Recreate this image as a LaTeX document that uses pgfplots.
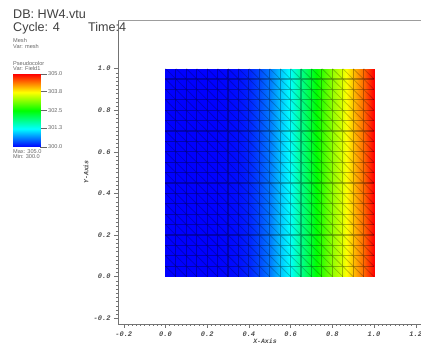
\documentclass[border=0pt]{standalone}
\usepackage{fontspec}
\setmainfont{Liberation Sans}
\setmonofont{Liberation Mono}
\usepackage{pgfplots}
\usepackage{pgfplotstable}
\pgfplotsset{compat=1.18}

% field value along x, same at bottom (y=0) and top (y=1)
\pgfplotstableread{
x y T
0.00 0 300.00
0.05 0 300.00
0.10 0 300.00
0.15 0 300.00
0.20 0 300.00
0.25 0 300.01
0.30 0 300.03
0.35 0 300.07
0.40 0 300.17
0.45 0 300.35
0.50 0 300.60
0.55 0 300.95
0.60 0 301.30
0.65 0 301.80
0.70 0 302.25
0.75 0 302.75
0.80 0 303.20
0.85 0 303.60
0.90 0 304.05
0.95 0 304.50
1.00 0 305.00
0.00 1 300.00
0.05 1 300.00
0.10 1 300.00
0.15 1 300.00
0.20 1 300.00
0.25 1 300.01
0.30 1 300.03
0.35 1 300.07
0.40 1 300.17
0.45 1 300.35
0.50 1 300.60
0.55 1 300.95
0.60 1 301.30
0.65 1 301.80
0.70 1 302.25
0.75 1 302.75
0.80 1 303.20
0.85 1 303.60
0.90 1 304.05
0.95 1 304.50
1.00 1 305.00
}\fieldtable

\pgfplotstableread{
x y T
0 300 300
1 300 300
0 305 305
1 305 305
}\bartable

\pgfplotsset{
  colormap={hot}{rgb255(0cm)=(0,0,255); rgb255(1cm)=(0,255,255); rgb255(2cm)=(0,255,0); rgb255(3cm)=(255,255,0); rgb255(4cm)=(255,0,0)},
}
\definecolor{axisgray}{gray}{0.45}
\definecolor{legendgray}{gray}{0.4}

\begin{document}
\begin{tikzpicture}[x=1pt,y=1pt]
  \useasboundingbox (0,0) rectangle (421,345);

  \begin{axis}[
    at={(118pt,21pt)},
    anchor=south west,
    scale only axis,
    width=303pt,
    height=304pt,
    xmin=-0.2278, xmax=1.2254,
    ymin=-0.2279, ymax=1.2337,
    xtick={-0.2,0,0.2,0.4,0.6,0.8,1.0,1.2},
    ytick={-0.2,0,0.2,0.4,0.6,0.8,1.0},
    minor tick num=9,
    tick align=outside,
    major tick length=4pt,
    minor tick length=2pt,
    tick style={axisgray,line width=0.4pt},
    axis line style={axisgray,line width=0.5pt},
    separate axis lines,
    axis x line*=bottom,
    axis y line*=left,
    tick label style={font=\ttfamily\bfseries\itshape\fontsize{7}{8}\selectfont,black!70},
    /pgf/number format/fixed,
    /pgf/number format/fixed zerofill,
    /pgf/number format/precision=1,
    /pgf/number format/assume math mode=true,
    xlabel={X-Axis},
    ylabel={Y-Axis},
    label style={font=\ttfamily\bfseries\itshape\fontsize{6.5}{7}\selectfont,black!70},
    xlabel style={at={(axis description cs:0.485,0)},anchor=north,yshift=-11pt},
    ylabel style={at={(axis description cs:0,0.5)},anchor=south,yshift=26pt},
    clip=false,
    colormap name=hot,
    point meta min=300,
    point meta max=305,
    unbounded coords=jump,
  ]
    \addplot[surf,shader=interp,mesh/rows=2,mesh/cols=21,point meta=explicit]
      table[x=x,y=y,meta=T] {\fieldtable};

    % mesh: rows and columns
    \addplot[black,opacity=0.3,line width=1.1pt] coordinates {
      (0,0.05)(1,0.05)(nan,nan)(0,0.1)(1,0.1)(nan,nan)
      (0,0.15)(1,0.15)(nan,nan)(0,0.2)(1,0.2)(nan,nan)(0,0.25)(1,0.25)(nan,nan)
      (0,0.3)(1,0.3)(nan,nan)(0,0.35)(1,0.35)(nan,nan)(0,0.4)(1,0.4)(nan,nan)
      (0,0.45)(1,0.45)(nan,nan)(0,0.5)(1,0.5)(nan,nan)(0,0.55)(1,0.55)(nan,nan)
      (0,0.6)(1,0.6)(nan,nan)(0,0.65)(1,0.65)(nan,nan)(0,0.7)(1,0.7)(nan,nan)
      (0,0.75)(1,0.75)(nan,nan)(0,0.8)(1,0.8)(nan,nan)(0,0.85)(1,0.85)(nan,nan)
      (0,0.9)(1,0.9)(nan,nan)(0,0.95)(1,0.95)(nan,nan)
      (0.05,0)(0.05,1)(nan,nan)(0.1,0)(0.1,1)(nan,nan)
      (0.15,0)(0.15,1)(nan,nan)(0.2,0)(0.2,1)(nan,nan)(0.25,0)(0.25,1)(nan,nan)
      (0.3,0)(0.3,1)(nan,nan)(0.35,0)(0.35,1)(nan,nan)(0.4,0)(0.4,1)(nan,nan)
      (0.45,0)(0.45,1)(nan,nan)(0.5,0)(0.5,1)(nan,nan)(0.55,0)(0.55,1)(nan,nan)
      (0.6,0)(0.6,1)(nan,nan)(0.65,0)(0.65,1)(nan,nan)(0.7,0)(0.7,1)(nan,nan)
      (0.75,0)(0.75,1)(nan,nan)(0.8,0)(0.8,1)(nan,nan)(0.85,0)(0.85,1)(nan,nan)
      (0.9,0)(0.9,1)(nan,nan)(0.95,0)(0.95,1)
    };
    % mesh: triangle diagonals
    \addplot[black,opacity=0.22,line width=0.8pt] coordinates {
      (0,0.05)(0.05,0)(nan,nan)(0,0.1)(0.1,0)(nan,nan)(0,0.15)(0.15,0)(nan,nan)
      (0,0.2)(0.2,0)(nan,nan)(0,0.25)(0.25,0)(nan,nan)(0,0.3)(0.3,0)(nan,nan)
      (0,0.35)(0.35,0)(nan,nan)(0,0.4)(0.4,0)(nan,nan)(0,0.45)(0.45,0)(nan,nan)
      (0,0.5)(0.5,0)(nan,nan)(0,0.55)(0.55,0)(nan,nan)(0,0.6)(0.6,0)(nan,nan)
      (0,0.65)(0.65,0)(nan,nan)(0,0.7)(0.7,0)(nan,nan)(0,0.75)(0.75,0)(nan,nan)
      (0,0.8)(0.8,0)(nan,nan)(0,0.85)(0.85,0)(nan,nan)(0,0.9)(0.9,0)(nan,nan)
      (0,0.95)(0.95,0)(nan,nan)(0,1)(1,0)(nan,nan)
      (0.05,1)(1,0.05)(nan,nan)(0.1,1)(1,0.1)(nan,nan)(0.15,1)(1,0.15)(nan,nan)
      (0.2,1)(1,0.2)(nan,nan)(0.25,1)(1,0.25)(nan,nan)(0.3,1)(1,0.3)(nan,nan)
      (0.35,1)(1,0.35)(nan,nan)(0.4,1)(1,0.4)(nan,nan)(0.45,1)(1,0.45)(nan,nan)
      (0.5,1)(1,0.5)(nan,nan)(0.55,1)(1,0.55)(nan,nan)(0.6,1)(1,0.6)(nan,nan)
      (0.65,1)(1,0.65)(nan,nan)(0.7,1)(1,0.7)(nan,nan)(0.75,1)(1,0.75)(nan,nan)
      (0.8,1)(1,0.8)(nan,nan)(0.85,1)(1,0.85)(nan,nan)(0.9,1)(1,0.9)(nan,nan)
      (0.95,1)(1,0.95)
    };
  \end{axis}

  % top edge of the plot frame
  \draw[axisgray!70,line width=0.4pt] (118,325) -- (421,325);

  % colour bar
  \begin{axis}[
    at={(13pt,198pt)},
    anchor=south west,
    scale only axis,
    width=27pt,
    height=73pt,
    xmin=0, xmax=1,
    ymin=300, ymax=305,
    xtick=\empty,
    ytick={300,301.3,302.5,303.8,305},
    yticklabels={300.0,301.3,302.5,303.8,305.0},
    axis y line*=right,
    axis x line=none,
    axis line style={draw=none},
    tick align=outside,
    major tick length=7pt,
    tick style={legendgray,line width=0.3pt},
    tick label style={font=\fontsize{5.6}{6}\selectfont,legendgray,inner xsep=1pt},
    colormap name=hot,
    point meta min=300,
    point meta max=305,
  ]
    \addplot[surf,shader=interp,mesh/rows=2,mesh/cols=2,point meta=explicit]
      table[x=x,y=y,meta=T] {\bartable};
  \end{axis}

  % header and legend text
  \node[anchor=base west,inner sep=0pt,font=\fontsize{12.6}{13}\selectfont,black!75] at (13,326) {DB: HW4.vtu};
  \node[anchor=base west,inner sep=0pt,font=\fontsize{12.6}{13}\selectfont,black!75] at (13,313.5) {Cycle: 4};
  \node[anchor=base west,inner sep=0pt,font=\fontsize{12.6}{13}\selectfont,black!75] at (88,313.5) {Time:4};
  \begin{scope}[every node/.style={anchor=base west,inner sep=0pt,font=\fontsize{5.6}{6}\selectfont,legendgray}]
    \node at (13,302) {Mesh};
    \node at (13,296) {Var: mesh};
    \node at (13,279.5) {Pseudocolor};
    \node at (13,274.5) {Var: Field1};
    \node at (13,191) {Max: 305.0};
    \node at (13,186) {Min: 300.0};
  \end{scope}
\end{tikzpicture}
\end{document}
